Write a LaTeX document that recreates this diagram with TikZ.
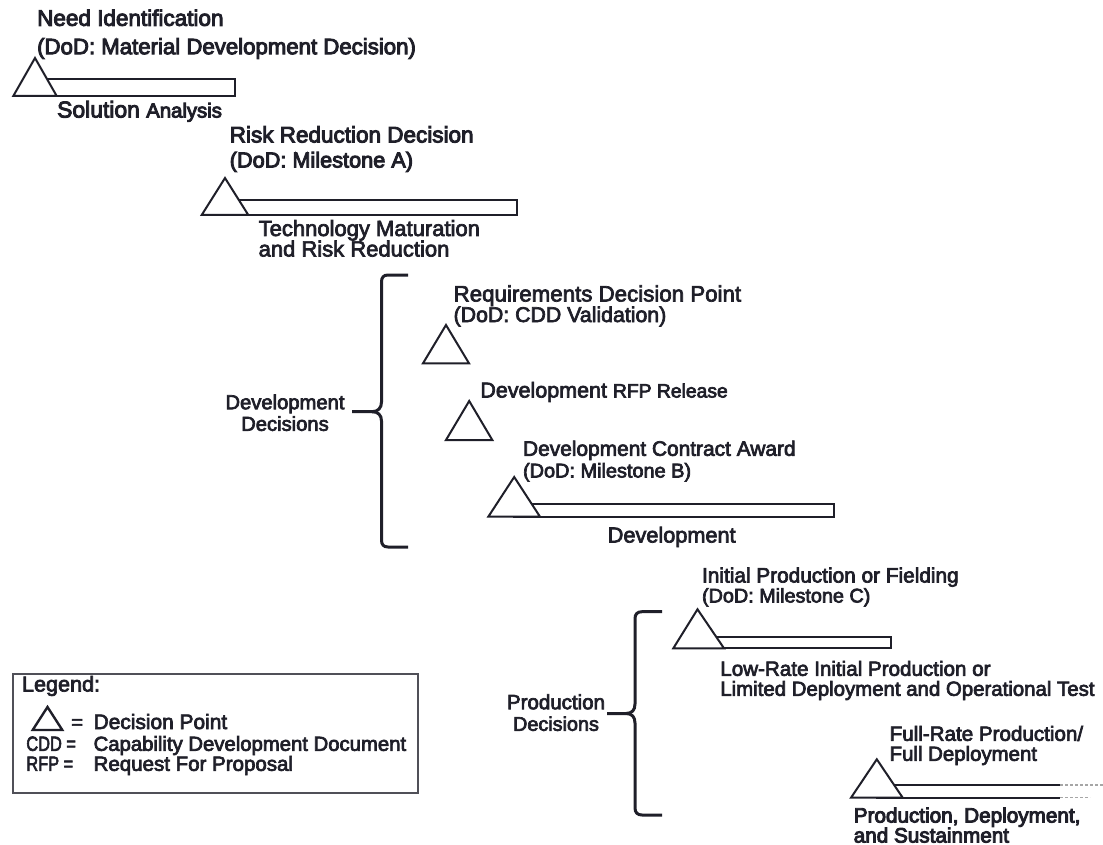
\documentclass[tikz,border=0pt]{standalone}
\usepackage{fontspec}
\setmainfont{Liberation Sans}
\definecolor{ink}{HTML}{1F1F29}
\definecolor{frame}{HTML}{505058}
\newcommand\fsz[1]{\fontsize{#1pt}{#1pt}\selectfont}
\newcommand\narrow[1]{\scalebox{0.8}[1]{#1}}
% fill and stroke the glyphs, for a slightly heavier print look
\newcommand\heavy{\special{pdf:literal direct 2 Tr}}
\begin{document}
\begin{tikzpicture}[x=1pt,y=-1pt,
  lbl/.style={anchor=west,inner sep=0pt,text height=15pt,text depth=0pt,text=ink,
    line width=0.7pt,execute at begin node=\heavy},
  clbl/.style={lbl,anchor=center},
  strong/.style={line width=0.95pt},
  tri/.style={draw=ink,line width=2pt,fill=white,line join=miter},
  bar/.style={draw=ink,line width=1.8pt,fill=white},
  brace/.style={draw=ink,line width=3pt},
  legbox/.style={draw=frame,line width=2pt},
  fade/.style={draw=gray!70,line width=1.5pt,dash pattern=on 3pt off 2pt},
]
\useasboundingbox (0,0) rectangle (1103,845);

% ---- Material development decision and solution analysis
\draw[bar] (35,79) rectangle (235,96);
\draw[tri] (35,58) -- (13.3,96) -- (56.7,96) -- cycle;
\node[lbl,strong,font=\fsz{22.5}] (need1) at (36.7,18.3) {Need Identification};
\node[lbl,strong,font=\fsz{22.2}] (need2) at (36.7,46.7) {(DoD: Material Development Decision)};
\node[lbl,strong] (sol) at (56.7,110) {\fsz{22.9}Solution \fsz{20.3}Analysis};

% ---- Milestone A and technology maturation
\draw[bar] (225,200) rectangle (517,215);
\draw[tri] (225,178) -- (201.7,215) -- (248.3,215) -- cycle;
\node[lbl,strong,font=\fsz{22.5}] (risk1) at (229.3,135) {Risk Reduction Decision};
\node[lbl,strong,font=\fsz{21.7}] (risk2) at (229.3,160) {(DoD: Milestone A)};
\node[lbl,font=\fsz{22}] (tech1) at (258.3,228.5) {Technology Maturation};
\node[lbl,font=\fsz{22}] (tech2) at (258.3,249) {and Risk Reduction};

% ---- Development decisions
\draw[brace] (408,275) -- (388,275) .. controls (383.5,275) and (381.5,277.5) .. (381.5,282)
  -- (381.5,402) .. controls (381.5,408) and (378,411.7) .. (372,411.7) -- (352,411.7);
\draw[brace] (372,411.7) .. controls (378,411.7) and (381.5,415) .. (381.5,421)
  -- (381.5,540) .. controls (381.5,544.5) and (383.5,547) .. (388,547) -- (408,547);
\node[clbl,font=\fsz{20.2}] (devdec1) at (285,401.7) {Development};
\node[clbl,font=\fsz{20.2}] (devdec2) at (285,423.3) {Decisions};

\draw[tri] (446,325) -- (423,363.3) -- (469,363.3) -- cycle;
\node[lbl,font=\fsz{22.3}] (req1) at (453.3,294) {Requirements Decision Point};
\node[lbl,font=\fsz{21.3}] (req2) at (453.3,314.5) {(DoD: CDD Validation)};

\draw[tri] (469.2,401) -- (446,440) -- (492.3,440) -- cycle;
\node[lbl] (rfp) at (480,390) {\fsz{21.5}Development \fsz{19.3}RFP Release};

\draw[bar] (514.2,504) rectangle (834.3,516.7);
\draw[tri] (514.2,477) -- (488.3,516.7) -- (540,516.7) -- cycle;
\node[lbl,font=\fsz{20.9}] (award1) at (522.7,448.3) {Development Contract Award};
\node[lbl,font=\fsz{19.9}] (award2) at (522.7,470) {(DoD: Milestone B)};
\node[clbl,font=\fsz{21.7}] (dev) at (671.7,535) {Development};

% ---- Production decisions
\draw[brace] (662,611.7) -- (642,611.7) .. controls (637.5,611.7) and (635,614) .. (635,618.5)
  -- (635,704) .. controls (635,710) and (632,713.5) .. (626,713.5) -- (607,713.5);
\draw[brace] (626,713.5) .. controls (632,713.5) and (635,717) .. (635,723)
  -- (635,808) .. controls (635,812.5) and (637.5,815) .. (642,815) -- (662,815);
\node[clbl,font=\fsz{20.5}] (prodec1) at (556,701.7) {Production};
\node[clbl,font=\fsz{19.8}] (prodec2) at (556,723.3) {Decisions};

\draw[bar] (697.5,636.7) rectangle (890.7,648.3);
\draw[tri] (697.5,609.3) -- (673.3,648.3) -- (724,648.3) -- cycle;
\node[lbl,font=\fsz{20.8}] (init1) at (701.7,575) {Initial Production or Fielding};
\node[lbl,font=\fsz{19.8}] (init2) at (701.7,595) {(DoD: Milestone C)};
\node[lbl,font=\fsz{20.6}] (lrip1) at (720,668.3) {Low-Rate Initial Production or};
\node[lbl,font=\fsz{20.4}] (lrip2) at (720,688.3) {Limited Deployment and Operational Test};

\draw[ink,line width=1.5pt] (876,785) -- (1060,785);
\draw[ink,line width=2pt] (876,797.7) -- (1060,797.7);
\draw[fade] (1060,785) -- (1103,785);
\draw[fade] (1060,797.7) -- (1090,797.7);
\draw[tri] (876.8,759.3) -- (851,797.7) -- (902.7,797.7) -- cycle;
\node[lbl,font=\fsz{20.6}] (frp1) at (889.3,733.3) {Full-Rate Production/};
\node[lbl,font=\fsz{20.4}] (frp2) at (889.3,753.3) {Full Deployment};
\node[lbl,strong,font=\fsz{20.7}] (pds1) at (853.3,815) {Production, Deployment,};
\node[lbl,strong,font=\fsz{20.7}] (pds2) at (853.3,835) {and Sustainment};

% ---- Legend
\draw[legbox] (12.7,674) rectangle (417.7,793.3);
\node[lbl,font=\fsz{21.6}] (leg) at (21.7,684) {Legend:};
\draw[tri,line width=2.4pt] (47.5,707) -- (32.7,730) -- (62.3,730) -- cycle;
\node[lbl,font=\fsz{20}] (eq1) at (71,721.5) {=};
\node[lbl,font=\fsz{20.9}] (dp) at (93.3,721.5) {Decision Point};
\node[lbl,font=\fsz{20.5}] (cdd) at (26,743.3) {\narrow{CDD =}};
\node[lbl,font=\fsz{20.3}] (cddx) at (93.3,743.3) {Capability Development Document};
\node[lbl,font=\fsz{20.5}] (rfpk) at (26,763.3) {\narrow{RFP =}};
\node[lbl,font=\fsz{20.5}] (rfpx) at (93.3,763.3) {Request For Proposal};
\end{tikzpicture}
\end{document}
